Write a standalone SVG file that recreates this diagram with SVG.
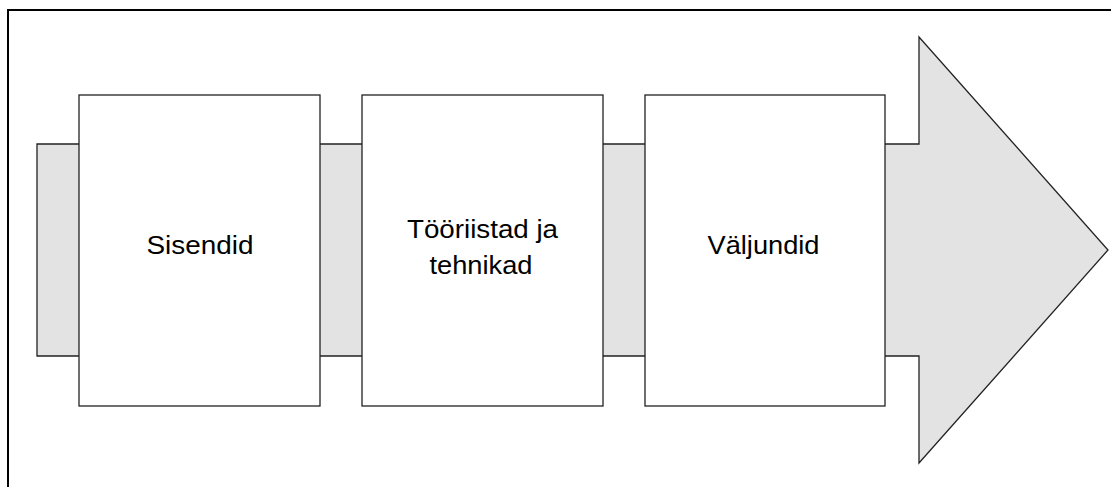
<svg xmlns="http://www.w3.org/2000/svg" width="1111" height="487" viewBox="0 0 1111 487">
  <style>
    .frame { fill: #ffffff; stroke: #000000; stroke-width: 2; }
    .arrow { fill: #e3e3e3; stroke: #222222; stroke-width: 1.3; stroke-linejoin: miter; }
    .box { fill: #ffffff; stroke: #222222; stroke-width: 1.3; }
    .label { font-family: "Liberation Sans", Arial, sans-serif; font-size: 25px; fill: #000000; text-anchor: middle; }
  </style>

  <!-- page frame (runs past the right and bottom edges) -->
  <rect class="frame" x="8" y="10" width="1200" height="600"/>

  <!-- process arrow behind the stages -->
  <g id="connectors">
    <polygon class="arrow" points="37,144 919,144 919,37 1108,250 919,463 919,356 37,356"/>
  </g>

  <g id="node-sisendid">
    <rect class="box" x="79" y="95" width="241" height="311"/>
    <text class="label" x="200" y="254" textLength="107" lengthAdjust="spacingAndGlyphs">Sisendid</text>
  </g>

  <g id="node-tooriistad">
    <rect class="box" x="362" y="95" width="241" height="311"/>
    <text class="label" x="482.5" y="238" textLength="151" lengthAdjust="spacingAndGlyphs">Tööriistad ja</text>
    <text class="label" x="481" y="274" textLength="103" lengthAdjust="spacingAndGlyphs">tehnikad</text>
  </g>

  <g id="node-valjundid">
    <rect class="box" x="645" y="95" width="240" height="311"/>
    <text class="label" x="763.5" y="254" textLength="112" lengthAdjust="spacingAndGlyphs">Väljundid</text>
  </g>
</svg>
